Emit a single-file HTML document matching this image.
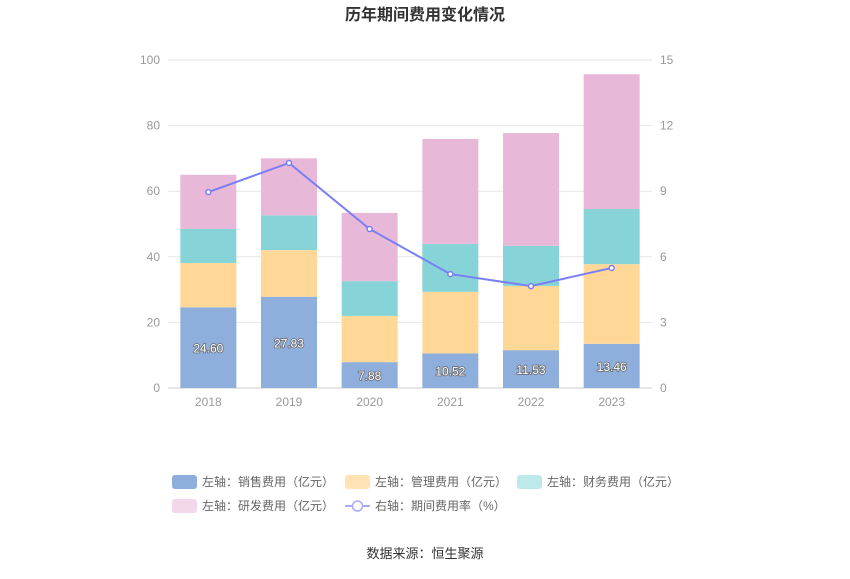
<!DOCTYPE html>
<html><head><meta charset="utf-8"><style>
body{margin:0;background:#fff;}
svg text{font-family:"Liberation Sans","Noto Sans CJK SC",sans-serif;}
</style></head><body>
<svg id="c" width="850" height="574">
<text x="425" y="20" text-anchor="middle" font-size="16" font-weight="bold" fill="#333">历年期间费用变化情况</text>
<g id="grid"></g><g id="bars"></g><g id="line"></g><g id="legend"></g>
<text x="425" y="558" text-anchor="middle" font-size="13" fill="#333">数据来源：恒生聚源</text>
</svg>
<script>
const categories=['2018','2019','2020','2021','2022','2023'];
const sales=[24.60,27.83,7.88,10.52,11.53,13.46];
const mgmt=[13.5,14.2,14.1,18.8,19.6,24.3];
const finance=[10.4,10.6,10.6,14.6,12.2,16.8];
const rnd=[16.5,17.4,20.8,32.0,34.4,41.1];
const rate=[8.96,10.29,7.27,5.21,4.66,5.49];
const leftTicks=[0,20,40,60,80,100];
const rightTicks=[0,3,6,9,12,15];
const NS='http://www.w3.org/2000/svg';
const x0=168,x1=652,yTop=60,yBot=388;
const yL=v=>yBot-(v/100)*(yBot-yTop);
const yR=v=>yBot-(v/15)*(yBot-yTop);
const band=(x1-x0)/categories.length;
const xC=i=>x0+band*(i+0.5);
function mk(tag,attrs,parent){const e=document.createElementNS(NS,tag);for(const k in attrs)e.setAttribute(k,attrs[k]);parent.appendChild(e);return e;}
const grid=document.getElementById('grid');
leftTicks.forEach((t,i)=>{
 const y=yL(t);
 const l=mk('line',{x1:x0,x2:x1,y1:y,y2:y,stroke:i==0?'#ccc':'#e6e6e6'},grid);
 
 
 const tx=mk('text',{x:x0-8,y:y+4,'text-anchor':'end','font-size':12,fill:'#999'},grid);tx.textContent=t;
 
 
});
rightTicks.forEach(t=>{
 const tx=mk('text',{x:x1+8,y:yR(t)+4,'font-size':12,fill:'#999'},grid);tx.textContent=t;
 
 
});
categories.forEach((c,i)=>{
 const tx=mk('text',{x:xC(i),y:yBot+18,'text-anchor':'middle','font-size':12,fill:'#999'},grid);tx.textContent=c;
 
 
});
const series=[[sales,'#8eaedc','sales'],[mgmt,'#ffd898','management'],[finance,'#86d4d8','finance'],[rnd,'#e8b8d8','rnd']];
const bars=document.getElementById('bars');
const bw=56;
categories.forEach((c,i)=>{
 let acc=0;
 series.forEach(([arr,col,nm])=>{
  const v=arr[i];
  const r=mk('rect',{x:xC(i)-bw/2,y:yL(acc+v),width:bw,height:yL(acc)-yL(acc+v),fill:col},bars);
  
  
  acc+=v;
 });
 const t=mk('text',{x:xC(i),y:yL(sales[i]/2)+5,'text-anchor':'middle','font-size':12,fill:'#fff',stroke:'#666','stroke-width':1.5,'paint-order':'stroke'},bars);
 t.textContent=sales[i].toFixed(2);
 
 
});
const lg=document.getElementById('line');
const p=mk('polyline',{points:rate.map((v,i)=>xC(i)+','+yR(v)).join(' '),fill:'none',stroke:'#7b7ff5','stroke-width':2},lg);


rate.forEach((v,i)=>{
 const c=mk('circle',{cx:xC(i),cy:yR(v),r:2.5,fill:'#fff',stroke:'#7b7ff5','stroke-width':1.5},lg);
 
 
});
const leg=document.getElementById('legend');
const items=[['左轴：销售费用（亿元）','#8eaedc',172,482],['左轴：管理费用（亿元）','#ffe3b5',345,482],['左轴：财务费用（亿元）','#bde9ea',517,482],['左轴：研发费用（亿元）','#f3d8ea',172,506]];
items.forEach(([t,col,x,y])=>{
 const r=mk('rect',{x:x,y:y-7,width:25,height:14,rx:3,fill:col},leg);
 
 
 const tx=mk('text',{x:x+30,y:y+4,'font-size':12,fill:'#666'},leg);tx.textContent=t;
 
 
});
const ll=mk('line',{x1:345,x2:370,y1:506,y2:506,stroke:'#a9abf7','stroke-width':2},leg);


const lc=mk('circle',{cx:357.5,cy:506,r:5,fill:'#fff',stroke:'#a9abf7','stroke-width':1.5},leg);


const lt=mk('text',{x:375,y:510,'font-size':12,fill:'#666'},leg);lt.textContent='右轴：期间费用率（%）';


</script>
</body></html>
